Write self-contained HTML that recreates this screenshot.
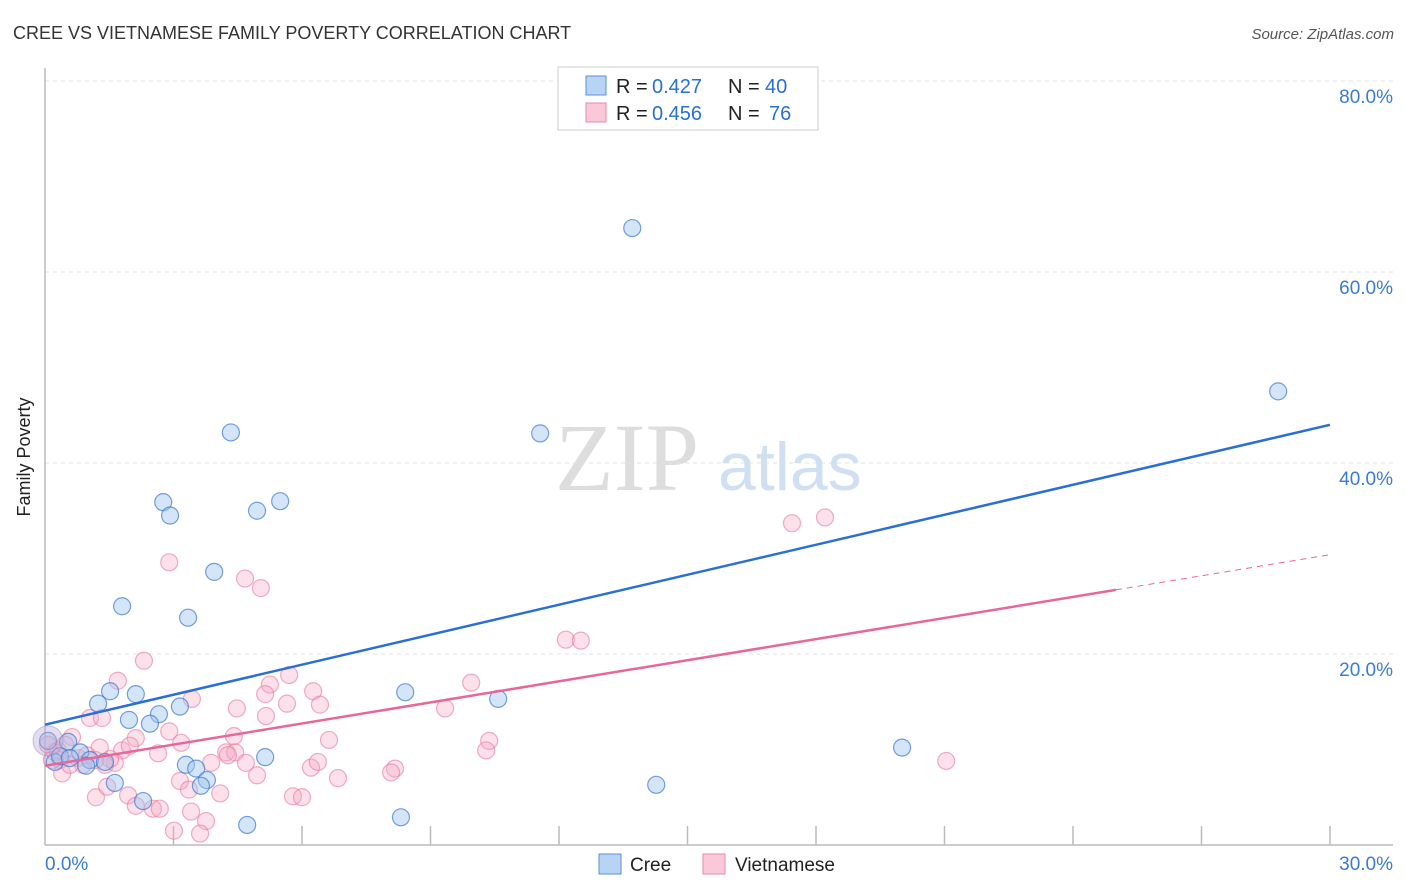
<!DOCTYPE html>
<html><head><meta charset="utf-8"><style>
body{margin:0;background:#fff;font-family:"Liberation Sans",sans-serif}
svg{display:block}
</style></head><body>
<svg id="chart" width="1406" height="892">
<text x="13" y="39" font-size="18" fill="#333">CREE VS VIETNAMESE FAMILY POVERTY CORRELATION CHART</text>
<text x="1394" y="39" font-size="15" fill="#555" font-style="italic" text-anchor="end">Source: ZipAtlas.com</text>
<text x="30" y="457" font-size="18" fill="#222" text-anchor="middle" transform="rotate(-90 30 457)">Family Poverty</text>
<text x="555" y="490" font-size="96" fill="#ddd" font-family="Liberation Serif,serif">ZIP</text>
<text x="718" y="490" font-size="68" fill="#cfe0f3">atlas</text>
<g id="grid"></g><g id="pts"></g><g id="lines"></g>
<g>
<rect x="558" y="67" width="260" height="63" fill="#fff" stroke="#ccc"/>
<rect x="586" y="76" width="20" height="19" fill="#b8d4f5" stroke="#5b8fd8"/>
<rect x="586" y="103" width="20" height="19" fill="#fac8d8" stroke="#e88aa8"/>
<text y="93" font-size="20" fill="#222"><tspan x="616">R =</tspan><tspan x="652" fill="#2a6fd6">0.427</tspan><tspan x="728">N =</tspan><tspan x="765" fill="#2a6fd6">40</tspan></text>
<text y="120" font-size="20" fill="#222"><tspan x="616">R =</tspan><tspan x="652" fill="#2a6fd6">0.456</tspan><tspan x="728">N =</tspan><tspan x="769" fill="#2a6fd6">76</tspan></text>
</g>
<g>
<rect x="599" y="854" width="22" height="20" fill="#b8d4f5" stroke="#5b8fd8"/>
<text x="630" y="871" font-size="19" fill="#222">Cree</text>
<rect x="703" y="854" width="22" height="20" fill="#fac8d8" stroke="#e88aa8"/>
<text x="735" y="871" font-size="19" fill="#222">Vietnamese</text>
</g>
</svg>
<script>
const creeX=[13.71,28.79,11.56,4.34,2.76,2.92,4.95,5.49,3.95,1.80,3.34,1.52,2.12,1.24,1.96,2.66,3.15,2.45,8.41,10.58,20.01,5.14,3.29,3.53,3.78,3.64,1.63,2.29,4.72,8.31,14.27,0.54,0.82,0.23,1.05,0.96,1.40,0.35,0.07,0.58];
const creeY=[64.6,47.5,43.1,43.2,35.9,34.5,35.0,36.0,28.6,25.0,23.8,16.1,15.8,14.8,13.1,13.7,14.5,12.7,16.0,15.3,10.2,9.2,8.4,8.0,6.8,6.2,6.5,4.6,2.1,2.9,6.3,10.8,9.7,8.7,8.9,8.3,8.7,9.3,10.9,9.1];
const vietX=[2.90,4.67,5.04,2.31,1.70,5.70,5.25,6.26,5.14,3.43,6.42,5.65,4.48,5.16,1.05,1.33,9.95,9.34,17.44,18.21,12.16,12.51,4.41,2.90,3.18,2.12,1.80,2.64,4.23,4.44,6.63,10.37,10.30,21.04,8.17,8.08,6.84,6.21,6.37,4.95,4.69,3.88,4.27,3.15,3.36,4.09,3.76,3.41,1.94,1.19,1.45,2.52,2.12,2.68,3.01,3.62,5.79,6.00,0.63,0.35,0.23,0.07,0.40,0.77,1.28,1.63,1.52,0.98,0.47,0.16,1.98,0.89,1.40,0.30,0.58,1.17];
const vietY=[29.6,27.9,26.9,19.3,17.2,17.8,16.8,16.1,15.8,15.3,14.7,14.8,14.3,13.5,13.3,13.3,17.0,14.3,33.7,34.3,21.5,21.4,11.4,11.9,10.7,11.2,9.9,9.6,9.7,9.7,11.0,10.9,9.9,8.8,8.0,7.6,7.0,8.1,8.7,7.3,8.6,8.6,9.4,6.7,5.8,5.4,2.5,3.5,5.2,5.0,6.1,3.8,4.1,3.8,1.5,1.2,5.1,5.0,11.3,8.9,9.7,10.5,7.5,9.1,10.2,8.6,9.0,9.4,10.5,8.9,10.4,8.4,8.4,9.9,8.4,8.9];
const yTicks=[20,40,60,80];
const xTickLabels=["0.0%","30.0%"];
const creeTrend=[12.6,44.0];
const vietTrend=[8.3,30.4];
const vietSolidEnd=25;
const NS="http://www.w3.org/2000/svg";
const sx=v=>45+v*1285/30, sy=v=>845-v*9.55;
function mk(t,a,p){const e=document.createElementNS(NS,t);for(const k in a)e.setAttribute(k,a[k]);p.appendChild(e);return e;}
const grid=document.getElementById('grid');
yTicks.forEach(t=>{
 const l=mk('line',{x1:45,x2:1393,y1:sy(t),y2:sy(t),stroke:'#e2e2e2','stroke-dasharray':'4,4'},grid);
 
 
 const tx=mk('text',{x:1393,y:sy(t)+22,'font-size':19,fill:'#3a7bd5','text-anchor':'end'},grid);
 tx.textContent=t.toFixed(1)+'%';
 
 
});
const ax=mk('line',{x1:45,x2:45,y1:68,y2:845,stroke:'#bbb','stroke-width':1.5},grid);


const bx=mk('line',{x1:45,x2:1393,y1:845,y2:845,stroke:'#bbb','stroke-width':1.5},grid);


for(let i=1;i<=10;i++){const t=mk('line',{x1:sx(i*3),x2:sx(i*3),y1:826,y2:845,stroke:'#bbb','stroke-width':1.5},grid);
 
 }
[[0,'start',45],[30,'end',1393]].forEach((d,i)=>{const t=mk('text',{x:d[2],y:870,'font-size':19,fill:'#3a7bd5','text-anchor':d[1]},grid);t.textContent=xTickLabels[i];
 
 });
const pts=document.getElementById('pts');
vietX.forEach((x,i)=>{const c=mk('circle',{cx:sx(x),cy:sy(vietY[i]),r:8.5,fill:'rgba(247,170,195,0.35)',stroke:'rgba(232,120,155,0.6)','stroke-width':1.2},pts);
 
 });
creeX.forEach((x,i)=>{const c=mk('circle',{cx:sx(x),cy:sy(creeY[i]),r:8.5,fill:'rgba(160,198,240,0.45)',stroke:'rgba(60,120,210,0.7)','stroke-width':1.2},pts);
 
 });
const big=mk('circle',{cx:sx(0.07),cy:sy(10.9),r:15,fill:'rgba(190,170,215,0.4)',stroke:'rgba(150,140,200,0.5)'},pts);


const lines=document.getElementById('lines');
const b=mk('line',{x1:sx(0),y1:sy(creeTrend[0]),x2:sx(30),y2:sy(creeTrend[1]),stroke:'#2a6fd6','stroke-width':2.5},lines);


const vm=vietTrend[0]+(vietTrend[1]-vietTrend[0])*vietSolidEnd/30;
const p=mk('line',{x1:sx(0),y1:sy(vietTrend[0]),x2:sx(vietSolidEnd),y2:sy(vm),stroke:'#e8679a','stroke-width':2.5},lines);


const pd=mk('line',{x1:sx(vietSolidEnd),y1:sy(vm),x2:sx(30),y2:sy(vietTrend[1]),stroke:'#e8679a','stroke-width':1,'stroke-dasharray':'6,5'},lines);


</script>
</body></html>
